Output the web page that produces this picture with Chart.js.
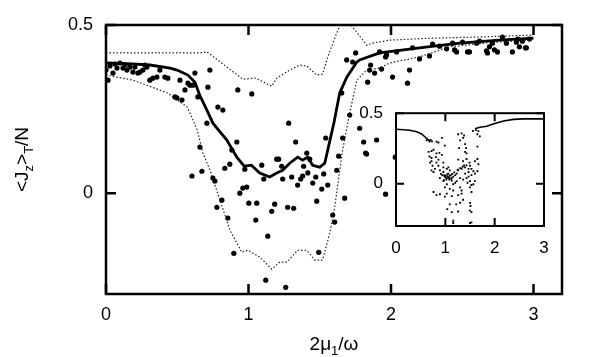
<!DOCTYPE html>
<html>
<head>
<meta charset="utf-8">
<script src="https://cdn.jsdelivr.net/npm/chart.js@4.4.0/dist/chart.umd.min.js"></script>
<style>
  html, body { margin: 0; padding: 0; background: #fff; }
  #wrap { position: relative; width: 598px; height: 357px; }
  #main { position: absolute; left: 0; top: 0; }
  #inset { position: absolute; left: 340px; top: 90px; }
</style>
</head>
<body>
<div id="wrap">
  <canvas id="main" width="598" height="357"></canvas>
  <canvas id="inset" width="230" height="175"></canvas>
</div>
<script>
// tick values
const xTickVals = [0, 1, 2, 3];
const yTickVals = [0, 0.5];
const insetXTickVals = [0, 1, 2, 3];
const insetYTickVals = [0, 0.5];

// time-averaged mean (thick line)
const meanX = [0, 0.15, 0.308, 0.45, 0.498, 0.575, 0.624, 0.659, 0.708, 0.75, 0.848, 0.918, 0.97, 1.02, 1.079, 1.149, 1.198, 1.24, 1.289, 1.345, 1.38, 1.416, 1.45, 1.5, 1.535, 1.556, 1.6, 1.64, 1.69, 1.76, 1.78, 1.92, 2.2, 2.48, 2.76, 3.0];
const meanY = [0.387, 0.385, 0.381, 0.372, 0.366, 0.351, 0.330, 0.290, 0.247, 0.208, 0.158, 0.107, 0.080, 0.083, 0.060, 0.048, 0.060, 0.068, 0.089, 0.107, 0.098, 0.107, 0.083, 0.077, 0.089, 0.128, 0.210, 0.298, 0.345, 0.390, 0.396, 0.417, 0.432, 0.446, 0.455, 0.461];

// upper envelope (dotted)
const upX = [0, 0.589, 0.659, 0.708, 0.96, 1.05, 1.163, 1.198, 1.289, 1.36, 1.41, 1.479, 1.52, 1.556, 1.619, 1.67, 1.72, 1.78, 1.829, 1.87, 1.99, 2.3, 2.6, 2.99];
const upY = [0.417, 0.417, 0.417, 0.420, 0.339, 0.342, 0.318, 0.342, 0.366, 0.381, 0.378, 0.351, 0.354, 0.405, 0.476, 0.53, 0.50, 0.467, 0.440, 0.446, 0.455, 0.461, 0.464, 0.470];

// lower envelope (dotted)
const lowX = [0, 0.19, 0.43, 0.57, 0.64, 0.68, 0.73, 0.80, 0.87, 0.953, 0.995, 1.079, 1.163, 1.22, 1.27, 1.345, 1.409, 1.465, 1.52, 1.57, 1.605, 1.64, 1.661, 1.71, 1.76, 1.829, 1.92, 1.99, 2.2, 2.41, 2.7, 2.99];
const lowY = [0.351, 0.336, 0.298, 0.256, 0.188, 0.119, 0.068, -0.021, -0.110, -0.176, -0.170, -0.190, -0.226, -0.205, -0.205, -0.170, -0.170, -0.199, -0.199, -0.119, -0.042, 0.068, 0.128, 0.238, 0.336, 0.366, 0.372, 0.387, 0.405, 0.435, 0.448, 0.455];

// individual trajectories (dots)
const dotX = [0.0, 0.014, 0.028, 0.049, 0.063, 0.077, 0.098, 0.119, 0.133, 0.147, 0.168, 0.189, 0.203, 0.224, 0.238, 0.259, 0.273, 0.287, 0.308, 0.329, 0.357, 0.378, 0.413, 0.434, 0.484, 0.498, 0.519, 0.533, 0.554, 0.575, 0.589, 0.610, 0.624, 0.645, 0.715, 0.729, 0.785, 0.820, 0.708, 0.659, 0.918, 0.883, 0.925,
  0.603, 0.673, 0.750, 0.764, 0.834, 0.869, 0.813, 0.778, 0.855, 0.897, 0.939, 0.960, 0.988, 1.002, 1.058, 1.051, 1.135, 1.121, 1.163, 1.184, 1.261, 1.275, 1.317, 1.303, 1.345, 0.974, 1.093, 1.107, 1.198, 1.212, 1.233, 1.240, 1.366, 1.380, 1.387, 1.409, 1.430, 1.416, 1.451, 1.472, 1.528, 1.514, 1.556, 1.479, 1.619, 1.633, 1.675, 1.591, 1.605, 1.493, 1.829, 1.962, 1.023, 1.282, 1.331, 1.542, 1.654, 1.661, 1.710, 1.780, 1.808, 1.899, 1.822, 2.03,
  1.752, 1.689, 1.731, 1.836, 1.857, 1.885, 1.920, 1.934, 1.962, 2.011, 2.130, 2.116, 1.850, 2.200, 2.270, 2.390, 2.460, 2.537, 2.670, 2.677, 2.726, 2.747, 2.782, 2.852, 2.901, 2.950, 1.969, 2.039, 2.151, 2.292, 2.341, 2.432, 2.502, 2.600, 2.621, 2.712, 2.810, 2.880, 2.922, 2.971, 2.446, 2.551, 2.691, 2.943, 2.89];
const dotY = [0.366, 0.336, 0.378, 0.357, 0.384, 0.372, 0.387, 0.372, 0.381, 0.366, 0.375, 0.360, 0.375, 0.357, 0.360, 0.366, 0.381, 0.375, 0.336, 0.342, 0.345, 0.366, 0.345, 0.342, 0.286, 0.283, 0.336, 0.277, 0.307, 0.327, 0.321, 0.321, 0.357, 0.286, 0.315, 0.366, 0.256, 0.247, 0.208, 0.137, 0.152, 0.128, 0.307,
  0.051, 0.065, 0.045, 0.036, 0.074, 0.086, -0.021, -0.042, -0.074, -0.179, 0.0, 0.015, 0.018, -0.030, -0.030, -0.080, -0.128, -0.259, -0.054, -0.033, -0.280, -0.042, -0.045, 0.048, 0.024, 0.071, 0.083, 0.042, 0.101, 0.101, 0.080, 0.042, 0.042, 0.051, 0.080, 0.119, 0.101, 0.060, 0.030, 0.048, 0.057, 0.012, 0.024, -0.024, 0.068, 0.110, -0.015, -0.065, -0.086, -0.176, 0.116, -0.003, 0.295, 0.208, 0.152, 0.164, 0.298, 0.164, 0.232, 0.193, 0.152, 0.158, 0.119, 0.107,
  0.417, 0.396, 0.390, 0.330, 0.381, 0.357, 0.420, 0.369, 0.405, 0.345, 0.366, 0.327, 0.366, 0.399, 0.408, 0.429, 0.420, 0.420, 0.423, 0.417, 0.426, 0.420, 0.464, 0.420, 0.435, 0.432, 0.411, 0.420, 0.432, 0.443, 0.437, 0.446, 0.449, 0.446, 0.452, 0.446, 0.446, 0.449, 0.452, 0.458, 0.426, 0.420, 0.435, 0.432, 0.458];

// inset: single-run line and dots
const insetLineX = [0.01, 0.28, 0.42, 0.52, 0.59, 0.64, 0.69, 1.1, 1.60, 1.70, 1.84, 1.97, 2.18, 2.38, 2.58, 2.99];
const insetLineY = [0.386, 0.379, 0.368, 0.353, 0.331, 0.314, 0.303, null, 0.390, 0.401, 0.408, 0.423, 0.445, 0.456, 0.460, 0.460];
const insetDotX = [0.62, 0.68, 0.82, 0.86, 0.93, 0.99, 1.26, 1.33, 1.38, 1.36, 1.30, 1.67, 1.65, 1.70, 1.65, 1.40, 1.42, 1.28, 1.40, 1.43, 0.66, 0.72, 0.76, 0.82, 0.88, 0.68, 0.72, 0.81, 0.86, 0.93, 0.96, 1.26, 1.36, 1.43, 1.49, 1.65, 1.60, 1.67, 0.72, 0.74, 0.79, 0.86, 0.72, 0.76, 0.89, 0.96, 1.03, 1.06, 1.09, 1.13, 0.99, 1.03, 1.16, 1.20, 1.23, 1.26, 1.33, 1.40, 1.47, 1.50, 1.53, 1.57, 1.60, 1.65, 1.53, 1.47, 1.43, 1.36, 1.30, 1.23, 1.20, 1.16, 1.13, 1.08, 1.03, 0.99, 1.09, 1.16, 1.30, 1.33, 1.45, 1.50, 1.53, 1.50, 1.53, 1.60, 1.57, 0.76, 0.82, 0.89, 1.03, 0.99, 1.13, 1.26, 1.33, 1.36, 1.30, 1.22, 1.09, 1.04, 1.13, 1.26, 1.50, 1.51, 1.50, 1.53, 1.16, 1.16, 1.50, 1.53, 1.06, 1.09, 0.96, 0.82, 0.69, 0.89, 0.96, 1.40, 1.47, 1.00, 1.05, 1.02, 1.08, 1.11, 1.14, 0.98, 1.04, 1.18, 1.25, 1.30, 1.35, 1.38, 1.43, 0.70, 0.73, 1.56, 1.62, 0.94, 1.01, 1.07, 1.12, 0.91, 0.97];
const insetDotY = [0.307, 0.298, 0.298, 0.292, 0.325, 0.270, 0.351, 0.357, 0.342, 0.325, 0.307, 0.373, 0.351, 0.336, 0.263, 0.281, 0.252, 0.252, 0.226, 0.215, 0.226, 0.232, 0.241, 0.215, 0.219, 0.193, 0.182, 0.189, 0.171, 0.204, 0.149, 0.171, 0.160, 0.175, 0.149, 0.175, 0.160, 0.138, 0.160, 0.127, 0.105, 0.127, 0.094, 0.083, 0.094, 0.083, 0.105, 0.072, 0.057, 0.039, 0.050, 0.039, 0.050, 0.061, 0.072, 0.094, 0.105, 0.116, 0.105, 0.127, 0.105, 0.088, 0.072, 0.088, 0.061, 0.050, 0.039, 0.029, 0.039, 0.018, 0.007, -0.004, 0.022, 0.029, -0.004, -0.026, -0.037, -0.048, -0.026, -0.048, 0.007, 0.018, -0.009, -0.026, -0.059, 0.018, -0.004, -0.059, -0.081, -0.075, -0.070, -0.092, -0.088, -0.081, -0.070, -0.114, -0.136, -0.147, -0.147, -0.180, -0.202, -0.197, -0.136, -0.158, -0.191, -0.202, -0.263, -0.279, -0.279, -0.274, 0.116, 0.094, 0.116, 0.149, 0.149, 0.039, 0.018, 0.072, 0.083, 0.045, 0.050, 0.030, 0.040, 0.060, 0.070, 0.060, 0.065, 0.080, 0.100, 0.110, 0.120, 0.130, 0.130, 0.310, 0.300, 0.375, 0.380, 0.060, 0.055, 0.045, 0.035, 0.070, 0.025];

const FONT = '"Liberation Sans", Arial, Helvetica, sans-serif';

function pts(xs, ys) {
  return xs.map((x, i) => ({ x: x, y: ys[i] }));
}

function fmt(v) {
  return Math.abs(v) < 1e-9 ? '0' : String(Math.round(v * 10) / 10);
}

// box around the plot area and inward tick marks
const frameTicks = {
  id: 'frameTicks',
  beforeDraw(chart, args, opts) {
    const a = chart.chartArea;
    const ctx = chart.ctx;
    ctx.save();
    ctx.fillStyle = '#fff';
    ctx.fillRect(a.left, a.top, a.right - a.left, a.bottom - a.top);
    ctx.restore();
  },
  afterDraw(chart, args, opts) {
    const { ctx, chartArea: a, scales } = chart;
    ctx.save();
    ctx.strokeStyle = '#000';
    ctx.lineWidth = opts.lw;
    ctx.beginPath();
    scales.x.ticks.forEach(t => {
      const p = scales.x.getPixelForValue(t.value);
      ctx.moveTo(p, a.bottom); ctx.lineTo(p, a.bottom - opts.len);
      ctx.moveTo(p, a.top); ctx.lineTo(p, a.top + opts.len);
    });
    scales.y.ticks.forEach(t => {
      const p = scales.y.getPixelForValue(t.value);
      ctx.moveTo(a.left, p); ctx.lineTo(a.left + opts.len, p);
      ctx.moveTo(a.right, p); ctx.lineTo(a.right - opts.len, p);
    });
    ctx.stroke();
    ctx.strokeRect(a.left, a.top, a.right - a.left, a.bottom - a.top);
    ctx.restore();
  }
};

function drawRich(ctx, parts, cx, base, size) {
  const big = size + 'px ' + FONT, small = Math.round(size * 0.7) + 'px ' + FONT;
  let w = 0;
  parts.forEach(p => { ctx.font = p[1] ? small : big; w += ctx.measureText(p[0]).width; });
  let x = cx - w / 2;
  parts.forEach(p => {
    ctx.font = p[1] ? small : big;
    ctx.fillText(p[0], x, base + (p[1] ? 5 : 0));
    x += ctx.measureText(p[0]).width;
  });
}

const axisTitles = {
  id: 'axisTitles',
  afterDraw(chart) {
    const ctx = chart.ctx, a = chart.chartArea;
    ctx.save();
    ctx.fillStyle = '#000';
    ctx.textBaseline = 'alphabetic';
    drawRich(ctx, [['2\u03bc', 0], ['1', 1], ['/\u03c9', 0]], (a.left + a.right) / 2, 350, 19);
    ctx.translate(28, (a.top + a.bottom) / 2);
    ctx.rotate(-Math.PI / 2);
    drawRich(ctx, [['<J', 0], ['z', 1], ['>', 0], ['T', 1], ['/N', 0]], 0, 0, 19);
    ctx.restore();
  }
};

function axis(min, max, vals, pad, fit, size) {
  return {
    type: 'linear', min: min, max: max,
    grid: { display: false, drawTicks: false },
    border: { display: false },
    ticks: { padding: pad, color: '#000', font: { family: FONT, size: size }, callback: fmt },
    afterBuildTicks(s) { s.ticks = vals.map(v => ({ value: v })); },
    afterFit: fit
  };
}

new Chart(document.getElementById('main'), {
  type: 'scatter',
  data: {
    datasets: [
      { data: pts(meanX, meanY), showLine: true, borderColor: '#000', borderWidth: 2.8, pointRadius: 0, tension: 0 },
      { data: pts(upX, upY), showLine: true, borderColor: '#222', borderWidth: 1.2, borderDash: [1.5, 2], pointRadius: 0 },
      { data: pts(lowX, lowY), showLine: true, borderColor: '#222', borderWidth: 1.2, borderDash: [1.5, 2], pointRadius: 0 },
      { data: pts(dotX, dotY), showLine: false, pointRadius: 2.6, pointBackgroundColor: '#000', pointBorderWidth: 0 }
    ]
  },
  options: {
    responsive: false, animation: false, events: [],
    layout: { padding: { left: 0, top: 25, right: 36, bottom: 0 } },
    plugins: { legend: { display: false }, tooltip: { enabled: false }, frameTicks: { lw: 2.5, len: 10 } },
    scales: {
      x: axis(0, 3.2, xTickVals, 10, s => { s.height = 63; }, 18),
      y: axis(-0.3, 0.5, yTickVals, 13, s => { s.width = 106; }, 18)
    }
  },
  plugins: [frameTicks, axisTitles]
});

new Chart(document.getElementById('inset'), {
  type: 'scatter',
  data: {
    datasets: [
      { data: pts(insetLineX, insetLineY), showLine: true, spanGaps: false, borderColor: '#000', borderWidth: 1.6, pointRadius: 0 },
      { data: pts(insetDotX, insetDotY), showLine: false, pointStyle: 'rect', pointRadius: 1.3, pointBackgroundColor: '#000', pointBorderWidth: 0 }
    ]
  },
  options: {
    responsive: false, animation: false, events: [],
    layout: { padding: { left: 0, top: 15, right: 26, bottom: 0 } },
    plugins: { legend: { display: false }, tooltip: { enabled: false }, frameTicks: { lw: 2, len: 8 } },
    scales: {
      x: axis(0, 3, insetXTickVals, 12, s => { s.height = 39; }, 17),
      y: axis(-0.3, 0.5, insetYTickVals, 13, s => { s.width = 56; }, 17)
    }
  },
  plugins: [frameTicks]
});
</script>
</body>
</html>
